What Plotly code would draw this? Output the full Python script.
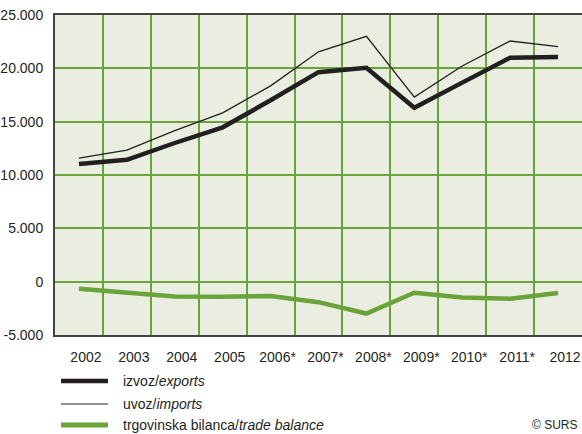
import plotly.graph_objects as go

# podatki (mio EUR)
years = ['2002', '2003', '2004', '2005', '2006*', '2007*', '2008*', '2009*', '2010*', '2011*', '2012']
exports = [11030, 11430, 13000, 14470, 17000, 19640, 20050, 16300, 18660, 21000, 21060]
imports = [11590, 12340, 14150, 15830, 18360, 21550, 23000, 17310, 20220, 22560, 22030]
balance = [-660, -1040, -1380, -1410, -1350, -1920, -2990, -1040, -1480, -1600, -1070]

y_ticks = [-5000, 0, 5000, 10000, 15000, 20000, 25000]
y_labels = ['-5.000', '0', '5.000', '10.000', '15.000', '20.000', '25.000']

GREEN = '#6aa33a'
DARK = '#231f20'
FONT = 'Liberation Sans, Arial, sans-serif'

W, H = 582, 434
L, R, T, B = 55, 0, 15, 99

fig = go.Figure()

fig.add_trace(go.Scatter(x=years, y=balance, mode='lines', name='trgovinska bilanca/trade balance',
                         line=dict(color=GREEN, width=4.5)))
fig.add_trace(go.Scatter(x=years, y=imports, mode='lines', name='uvoz/imports',
                         line=dict(color=DARK, width=1.3)))
fig.add_trace(go.Scatter(x=years, y=exports, mode='lines', name='izvoz/exports',
                         line=dict(color=DARK, width=4.5)))


# ročna legenda (pixel -> paper)
def px_x(x):
    return (x - L) / (W - L - R)


def px_y(y):
    return (H - B - y) / (H - T - B)


legend = [
    ('izvoz/<i>exports</i>', DARK, 4.5, 381),
    ('uvoz/<i>imports</i>', DARK, 1.2, 404),
    ('trgovinska bilanca/<i>trade balance</i>', GREEN, 5, 425),
]
for text, color, width, y in legend:
    fig.add_shape(type='line', xref='paper', yref='paper',
                  x0=px_x(61), x1=px_x(108), y0=px_y(y), y1=px_y(y),
                  line=dict(color=color, width=width))
    fig.add_annotation(text=text, xref='paper', yref='paper', x=px_x(121), y=px_y(y),
                       xanchor='left', yanchor='middle', showarrow=False,
                       font=dict(size=14, color=DARK, family=FONT))

fig.add_annotation(text='© SURS', xref='paper', yref='paper', x=px_x(580), y=px_y(425),
                   xanchor='right', yanchor='middle', showarrow=False,
                   font=dict(size=12, color=DARK, family=FONT))

fig.update_layout(
    width=W, height=H,
    margin=dict(l=L, r=R, t=T, b=B),
    paper_bgcolor='white',
    plot_bgcolor='#e9eee0',
    showlegend=False,
    font=dict(family=FONT, size=14, color=DARK),
)

fig.update_xaxes(
    type='category', range=[-0.5, 10.5], tickson='boundaries',
    showgrid=True, gridcolor=GREEN, gridwidth=1.5,
    showline=True, linecolor='#444444', linewidth=2, mirror=True,
    ticks='', ticklabelstandoff=8, ticklabelshift=7,
)
fig.update_yaxes(
    range=[-5000, 25000], tickvals=y_ticks, ticktext=y_labels,
    showgrid=True, gridcolor=GREEN, gridwidth=1.5, zeroline=False,
    showline=True, linecolor='#444444', linewidth=2,
    ticks='', ticklabelstandoff=7,
)

fig.write_html('out.html', config={'displayModeBar': False},
               post_script="document.body.style.margin='0';document.body.style.overflow='hidden';")
